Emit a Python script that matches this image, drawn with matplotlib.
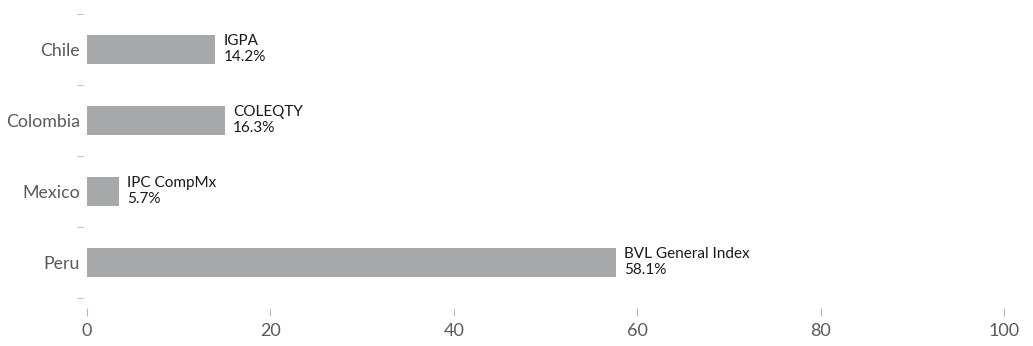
import matplotlib.pyplot as plt
import numpy as np

# chart data (bar lengths, labels as printed)
countries = ['Chile', 'Colombia', 'Mexico', 'Peru']
indices = ['IGPA', 'COLEQTY', 'IPC CompMx', 'BVL General Index']
bar_values = [14.0, 15.0, 3.5, 57.7]
share_labels = ['14.2%', '16.3%', '5.7%', '58.1%']
xticks = [0, 20, 40, 60, 80, 100]

plt.rcParams['font.family'] = ['Lato', 'DejaVu Sans']

fig = plt.figure(figsize=(10.33, 3.46), dpi=100)
ax = fig.add_axes([87 / 1033, 1 - 308 / 346, (1004 - 87) / 1033, (308 - 14) / 346])

y = np.arange(len(countries))
ax.barh(y, bar_values, height=0.41, color='#a7a8aa')

# labels at bar ends
for yi, name, val, lab in zip(y, indices, bar_values, share_labels):
    ax.text(val + 0.9, yi - 0.22, name + '\n' + lab, ha='left', va='top',
            fontsize=11, color='#1a1a1a', linespacing=1.15)

ax.set_xlim(0, 100)
ax.set_ylim(3.637, -0.5)
ax.set_xticks(xticks)
ax.set_yticks(y)
ax.set_yticklabels(countries)
ax.set_yticks(np.arange(-0.5, 4.0, 1.0), minor=True)

ax.tick_params(axis='x', length=6, width=0.8, color='#b5b5b5', labelcolor='#5a5a5a',
               labelsize=13, pad=5)
ax.tick_params(axis='y', which='major', length=0, labelcolor='#5a5a5a', labelsize=12.8, pad=2)
ax.tick_params(axis='y', which='minor', length=4.5, width=0.8, color='#c0c0c0', pad=0)

for spine in ax.spines.values():
    spine.set_visible(False)
ax.spines['left'].set_position(('outward', 3))

fig.savefig('out.png', dpi=100)
